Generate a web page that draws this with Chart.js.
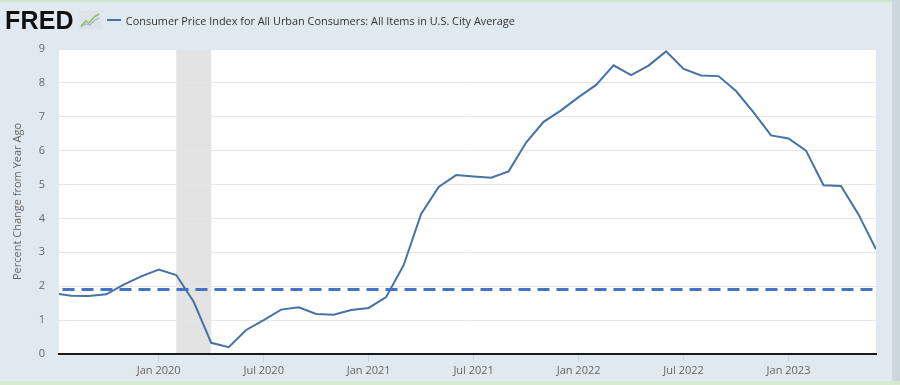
<!DOCTYPE html>
<html>
<head>
<meta charset="utf-8">
<script src="https://cdn.jsdelivr.net/npm/chart.js@4.4.1/dist/chart.umd.min.js"></script>
<style>
  html, body { margin: 0; padding: 0; }
  body { width: 900px; height: 385px; overflow: hidden; background: #e1e9f0; position: relative; font-family: 'Open Sans', sans-serif; }
  #wrap { position: absolute; left: 0; top: 0; width: 900px; height: 385px; }
  .edge-top { position: absolute; left: 0; top: 0; width: 900px; height: 2px; background: #cfe8c8; }
  .edge-bottom { position: absolute; left: 0; top: 381px; width: 900px; height: 4px; background: #d6ead2; }
  .edge-right { position: absolute; left: 892px; top: 0; width: 8px; height: 385px; background: linear-gradient(to right, #cfd9e0, #c9d4db); }
  .header { position: absolute; left: 5px; top: 6px; height: 28px; display: flex; align-items: center; }
  .logo { font-family: 'Liberation Sans', Arial, sans-serif; font-weight: bold; font-size: 25px; letter-spacing: 0.2px; color: #111; }
  .legend-line { width: 14px; height: 2px; background: #4572a7; margin-left: 6px; margin-right: 5px; }
  .legend-text { font-size: 10.9px; color: #333; }
</style>
</head>
<body>
<div id="wrap"><canvas id="cpiChart" width="900" height="385"></canvas></div>
<div class="edge-top"></div>
<div class="edge-right"></div>
<div class="edge-bottom"></div>
<div class="header">
  <span class="logo">FRED</span>
  <svg width="22" height="18" viewBox="0 0 22 18" style="margin-left:5px">
    <rect x="0" y="0" width="22" height="18" fill="#dde3e8"/>
    <polyline points="2,15 7,10 10,12 15,6 20,3" fill="none" stroke="#8fbf5a" stroke-width="1.5"/>
    <polyline points="2,16 7,13 11,14 16,9 20,7" fill="none" stroke="#9fb7cf" stroke-width="1.2"/>
  </svg>
  <span class="legend-line"></span>
  <span class="legend-text">Consumer Price Index for All Urban Consumers: All Items in U.S. City Average</span>
</div>
<script>
// x values are months counted from Jan 2020 (0 = Jan 2020)
const firstMonth = -6;   // Jul 2019
const cpiYoY = [
    1.79, 1.72, 1.71, 1.76, 2.05, 2.29,            // Jul-Dec 2019
    2.49, 2.33, 1.54, 0.33, 0.20, 0.71,            // Jan-Jun 2020
    1.00, 1.31, 1.38, 1.18, 1.16, 1.30,            // Jul-Dec 2020
    1.36, 1.68, 2.62, 4.13, 4.93, 5.28,            // Jan-Jun 2021
    5.24, 5.20, 5.39, 6.24, 6.85, 7.19,            // Jul-Dec 2021
    7.58, 7.94, 8.52, 8.23, 8.51, 8.93,            // Jan-Jun 2022
    8.41, 8.22, 8.20, 7.76, 7.13, 6.45,            // Jul-Dec 2022
    6.36, 6.00, 4.98, 4.96, 4.12, 3.09             // Jan-Jun 2023
];
const targetLine = [1.9, 1.9];
const targetRange = [-5.5, 41];
const xRange = [-5.7, 41];
const recession = [1, 3];   // Feb 2020 - Apr 2020
const tickMonths = [0, 6, 12, 18, 24, 30, 36];
const tickLabels = ['Jan 2020', 'Jul 2020', 'Jan 2021', 'Jul 2021', 'Jan 2022', 'Jul 2022', 'Jan 2023'];

const cpiPoints = cpiYoY.map((v, i) => ({ x: firstMonth + i, y: v }));
const targetPoints = targetRange.map((x, i) => ({ x: x, y: targetLine[i] }));

// white plot area + recession band
const plotBackground = {
    id: 'plotBackground',
    beforeDraw(chart) {
        const { ctx, chartArea: a, scales } = chart;
        ctx.save();
        ctx.fillStyle = '#ffffff';
        ctx.fillRect(a.left, a.top, a.right - a.left, a.bottom - a.top);
        const x1 = scales.x.getPixelForValue(recession[0]);
        const x2 = scales.x.getPixelForValue(recession[1]);
        ctx.fillStyle = '#e3e3e3';
        ctx.fillRect(x1, a.top, x2 - x1, a.bottom - a.top);
        ctx.restore();
    }
};

new Chart(document.getElementById('cpiChart'), {
    type: 'line',
    data: {
        datasets: [
            {
                label: 'Target',
                data: targetPoints,
                borderColor: '#4472c4',
                borderWidth: 3,
                borderDash: [12, 7],
                pointRadius: 0,
                fill: false
            },
            {
                label: 'CPI',
                data: cpiPoints,
                borderColor: '#4572a7',
                borderWidth: 2,
                pointRadius: 0,
                tension: 0,
                fill: false
            }
        ]
    },
    options: {
        responsive: false,
        animation: false,
        layout: { padding: { left: 0, right: 24, top: 49, bottom: 0 } },
        plugins: { legend: { display: false }, tooltip: { enabled: false } },
        scales: {
            x: {
                type: 'linear',
                min: xRange[0],
                max: xRange[1],
                afterFit: (s) => { s.height = 31; },
                afterBuildTicks: (s) => { s.ticks = tickMonths.map(v => ({ value: v })); },
                ticks: {
                    autoSkip: false,
                    maxRotation: 0,
                    padding: 2,
                    color: '#666',
                    font: { family: "'Open Sans', sans-serif", size: 11 },
                    callback: (v) => tickLabels[tickMonths.indexOf(v)]
                },
                grid: { drawOnChartArea: false, drawTicks: true, tickLength: 8, color: '#ccd6eb' },
                border: { display: true, color: '#1a1a1a', width: 2 }
            },
            y: {
                min: 0,
                max: 9,
                afterFit: (s) => { s.width = 59; },
                ticks: {
                    stepSize: 1,
                    padding: 14,
                    color: '#666',
                    font: { family: "'Open Sans', sans-serif", size: 11 }
                },
                grid: { color: '#e6e6e6', drawTicks: false },
                border: { display: false },
                title: {
                    display: true,
                    text: 'Percent Change from Year Ago',
                    color: '#666',
                    font: { family: "'Open Sans', sans-serif", size: 11 },
                    padding: { top: 11, bottom: 0 }
                }
            }
        }
    },
    plugins: [plotBackground]
});
</script>
</body>
</html>
